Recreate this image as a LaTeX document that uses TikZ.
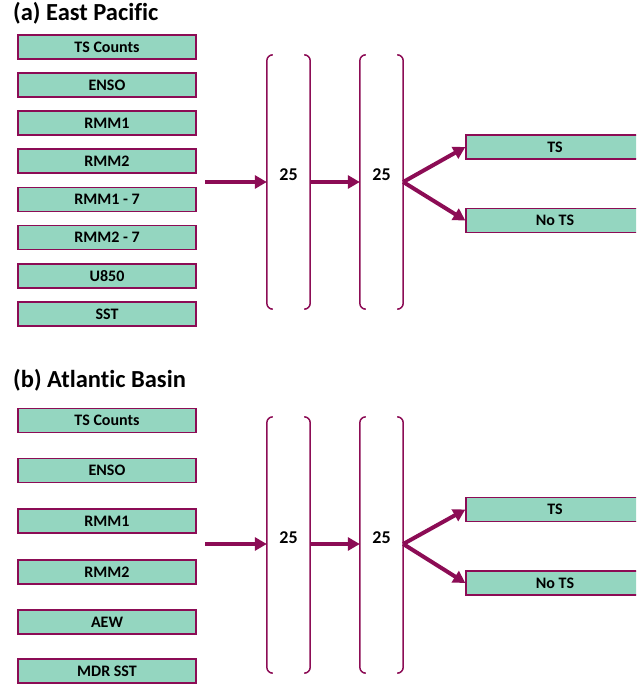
\documentclass[tikz,border=0pt]{standalone}
\usepackage{fontspec}
\setmainfont[Ligatures=CommonOff]{Carlito}
\usetikzlibrary{arrows.meta,calc}
\definecolor{boxfill}{RGB}{148,214,192}
\definecolor{plum}{RGB}{140,12,85}
\tikzset{
  inbox/.style={draw=plum, line width=1.3pt, fill=boxfill, minimum width=178pt, minimum height=24pt, inner sep=0pt, font=\fontsize{16}{17}\selectfont\bfseries},
  layer/.style={minimum width=43pt, minimum height=254pt, inner sep=0pt},
  bracket/.style={draw=plum, line width=1.5pt, rounded corners=6pt},
  arr/.style={draw=plum, line width=4pt, -{Triangle[length=12pt,width=13pt]}},
  num/.style={font=\fontsize{18}{19}\selectfont\bfseries, inner sep=0pt},
  ttl/.style={font=\fontsize{24.5}{26}\selectfont\bfseries, inner sep=0pt, anchor=base west}
}
\begin{document}
\begin{tikzpicture}[x=1pt,y=-1pt]
\useasboundingbox (0,0) rectangle (636,684);
\clip (0,0) rectangle (636,684);
% ---------- (a) ----------
\node[ttl] (ta) at (13,21) {(a) East Pacific};
\node[inbox] (a1) at (107,47) {TS Counts};
\node[inbox] (a2) at (107,85) {ENSO};
\node[inbox] (a3) at (107,123) {RMM1};
\node[inbox] (a4) at (107,161) {RMM2};
\node[inbox] (a5) at (107,199.5) {RMM1 - 7};
\node[inbox] (a6) at (107,237.5) {RMM2 - 7};
\node[inbox] (a7) at (107,276) {U850};
\node[inbox] (a8) at (107,314) {SST};
\node[layer] (ah1) at (288.5,182) {};
\node[layer] (ah2) at (381.5,182) {};
\node[num] (ah1t) at (288.5,175) {25};
\node[num] (ah2t) at (381.5,175) {25};
\foreach \h in {ah1,ah2}{
  \draw[bracket] ($(\h.north west)+(6,0)$) -- (\h.north west) -- (\h.south west) -- ($(\h.south west)+(6,0)$);
  \draw[bracket] ($(\h.north east)+(-6,0)$) -- (\h.north east) -- (\h.south east) -- ($(\h.south east)+(-6,0)$);
}
\node[inbox] (ats) at (555,147) {TS};
\node[inbox] (ano) at (555,220.5) {No TS};
\coordinate (ain) at (205,182);
\draw[arr] (ain) -- (ah1.west);
\draw[arr] (ah1.east) -- (ah2.west);
\draw[arr] (ah2.east) -- (ats.west);
\draw[arr] (ah2.east) -- (ano.west);
% ---------- (b) ----------
\node[ttl] (tb) at (13,387) {(b) Atlantic Basin};
\node[inbox] (b1) at (107,420.5) {TS Counts};
\node[inbox] (b2) at (107,470.5) {ENSO};
\node[inbox] (b3) at (107,521) {RMM1};
\node[inbox] (b4) at (107,572) {RMM2};
\node[inbox] (b5) at (107,622) {AEW};
\node[inbox] (b6) at (107,671) {MDR SST};
\node[layer, minimum height=256pt] (bh1) at (288.5,545) {};
\node[layer, minimum height=256pt] (bh2) at (381.5,545) {};
\node[num] (bh1t) at (288.5,538) {25};
\node[num] (bh2t) at (381.5,538) {25};
\foreach \h in {bh1,bh2}{
  \draw[bracket] ($(\h.north west)+(6,0)$) -- (\h.north west) -- (\h.south west) -- ($(\h.south west)+(6,0)$);
  \draw[bracket] ($(\h.north east)+(-6,0)$) -- (\h.north east) -- (\h.south east) -- ($(\h.south east)+(-6,0)$);
}
\node[inbox] (bts) at (555,509.5) {TS};
\node[inbox] (bno) at (555,583) {No TS};
\coordinate (bin) at (205,544);
\draw[arr] (bin) -- (bh1.west |- bin);
\draw[arr] (bh1.east |- bin) -- (bh2.west |- bin);
\draw[arr] (bh2.east |- bin) -- (bts.west);
\draw[arr] (bh2.east |- bin) -- (bno.west);
\end{tikzpicture}
\end{document}
